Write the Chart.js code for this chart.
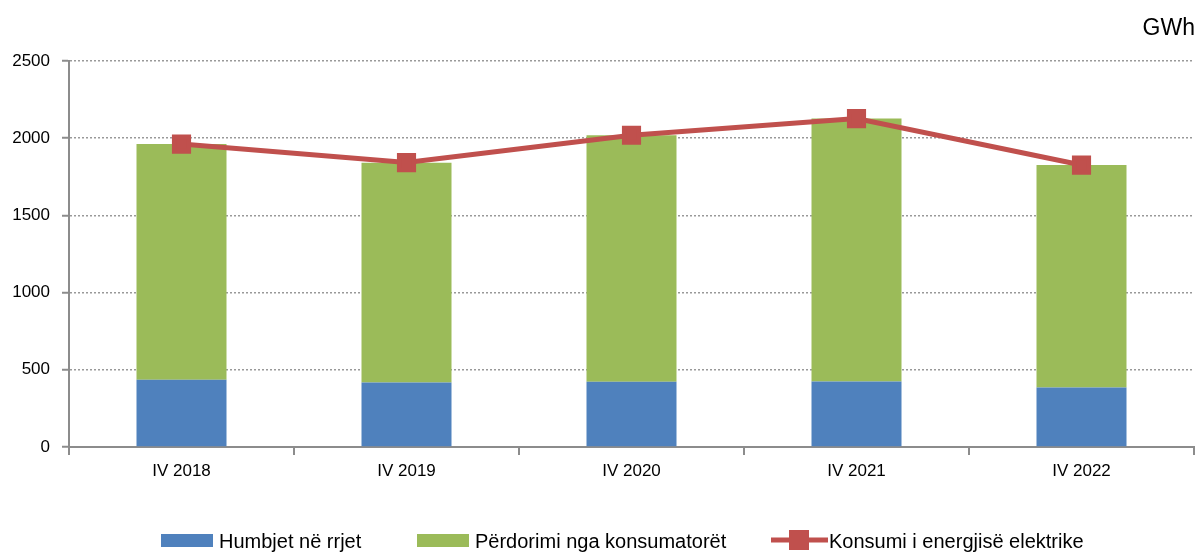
<!DOCTYPE html>
<html>
<head>
<meta charset="utf-8">
<script src="https://cdn.jsdelivr.net/npm/chart.js@4"></script>
<style>
html, body { margin: 0; padding: 0; background: #fff; }
#wrap { width: 1197px; height: 552px; }
</style>
</head>
<body>
<div id="wrap"><canvas id="chart"></canvas></div>
<script>
const labels = ['IV 2018', 'IV 2019', 'IV 2020', 'IV 2021', 'IV 2022'];
const losses = [436, 418, 423, 425, 386];
const usage = [1526, 1423, 1596, 1702, 1440];
const consumption = [1962, 1842, 2019, 2127, 1826];
const seriesNames = ['Humbjet në rrjet', 'Përdorimi nga konsumatorët', 'Konsumi i energjisë elektrike'];
const unitLabel = 'GWh';

const blue = '#4f81bd';
const green = '#9bbb59';
const red = '#c0504d';
const axisGray = '#8c8c8c';
const tickFont = { family: '"Liberation Sans", Arial, sans-serif', size: 17 };

// legend + unit label drawn by hand, the built-in legend can't do line+marker
const extras = {
  id: 'extras',
  afterDraw(chart) {
    const ctx = chart.ctx;
    ctx.save();
    ctx.fillStyle = '#000';
    ctx.font = '23px "Liberation Sans", Arial, sans-serif';
    ctx.textAlign = 'right';
    ctx.textBaseline = 'alphabetic';
    ctx.fillText(unitLabel, 1195, 35);

    const starts = [161, 417, 771];
    const y = 540;
    ctx.font = '20px "Liberation Sans", Arial, sans-serif';
    ctx.textAlign = 'left';
    seriesNames.forEach(function (name, i) {
      const x = starts[i];
      if (i < 2) {
        ctx.fillStyle = i === 0 ? blue : green;
        ctx.fillRect(x, y - 6, 52, 13);
      } else {
        ctx.strokeStyle = red;
        ctx.lineWidth = 5;
        ctx.beginPath();
        ctx.moveTo(x, y);
        ctx.lineTo(x + 57, y);
        ctx.stroke();
        ctx.fillStyle = red;
        ctx.fillRect(x + 18, y - 10, 20, 20);
      }
      ctx.fillStyle = '#000';
      ctx.fillText(name, x + 58, 548);
    });
    ctx.restore();
  }
};

new Chart(document.getElementById('chart'), {
  data: {
    labels: labels,
    datasets: [
      {
        type: 'line',
        label: seriesNames[2],
        data: consumption,
        borderColor: red,
        backgroundColor: red,
        borderWidth: 5,
        pointStyle: 'rect',
        pointRadius: 10,
        pointHoverRadius: 10,
        tension: 0,
        stack: 'line',
        order: 0
      },
      {
        type: 'bar',
        label: seriesNames[0],
        data: losses,
        backgroundColor: blue,
        stack: 'bar',
        order: 1,
        categoryPercentage: 1,
        barPercentage: 0.4
      },
      {
        type: 'bar',
        label: seriesNames[1],
        data: usage,
        backgroundColor: green,
        stack: 'bar',
        order: 1,
        categoryPercentage: 1,
        barPercentage: 0.4
      }
    ]
  },
  options: {
    responsive: true,
    maintainAspectRatio: false,
    animation: false,
    layout: { autoPadding: false, padding: { top: 61, right: 3, bottom: 65, left: 0 } },
    plugins: {
      legend: { display: false },
      tooltip: { enabled: false }
    },
    scales: {
      x: {
        stacked: true,
        offset: true,
        grid: {
          offset: true,
          drawOnChartArea: false,
          drawTicks: true,
          tickLength: 8,
          tickColor: axisGray,
          lineWidth: 2
        },
        border: { color: axisGray, width: 2 },
        ticks: { color: '#000', font: tickFont, padding: 6, maxRotation: 0 },
        afterFit: function (scale) {
          scale.height = 40;
          scale.paddingLeft = 0;
          scale.paddingRight = 0;
        }
      },
      y: {
        stacked: true,
        min: 0,
        max: 2500,
        grid: {
          color: '#999',
          lineWidth: 1.5,
          tickLength: 7,
          tickColor: axisGray,
          tickBorderDash: [],
          tickWidth: 2
        },
        border: { color: axisGray, width: 2, dash: [2, 2] },
        ticks: {
          stepSize: 500,
          color: '#000',
          font: tickFont,
          padding: 12,
          callback: function (v) { return String(v); }
        },
        afterFit: function (scale) { scale.width = 69; }
      }
    }
  },
  plugins: [extras]
});
</script>
</body>
</html>
